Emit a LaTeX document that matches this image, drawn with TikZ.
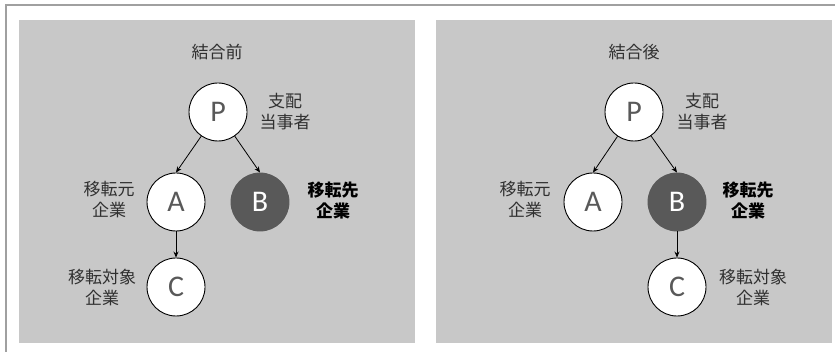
\documentclass[tikz,border=0pt]{standalone}
\usepackage{fontspec}
\setmainfont{Noto Sans CJK JP}
\newfontfamily\letterfont{Carlito}
\usetikzlibrary{arrows.meta}
\definecolor{panelgray}{HTML}{C8C8C8}
\definecolor{bordergray}{HTML}{A0A0A0}
\definecolor{darkfill}{HTML}{595959}
\definecolor{lettergray}{HTML}{595959}
\definecolor{labelgray}{HTML}{303030}
\begin{document}
\begin{tikzpicture}[x=1pt,y=-1pt,
  panel/.style={fill=panelgray, draw=none},
  ent/.style={circle, draw=black, line width=0.9pt, fill=white, minimum size=58pt, inner sep=0pt,
    font=\letterfont\fontsize{30}{30}\selectfont, text=lettergray},
  entdark/.style={ent, fill=darkfill, draw=darkfill, text=white},
  lbl/.style={align=center, font=\fontsize{17}{21}\selectfont, text=labelgray, inner sep=0pt},
  lblb/.style={align=center, font=\fontsize{17}{21}\selectfont\bfseries, text=black, inner sep=0pt},
  ttl/.style={font=\fontsize{17}{21}\selectfont, text=labelgray, inner sep=0pt},
  arr/.style={-{Stealth[length=6pt,width=5pt]}, line width=0.8pt, draw=black}]
\useasboundingbox (0,0) rectangle (835,352);
\fill[white] (0,0) rectangle (835,352);
\draw[bordergray, line width=1.4pt] (6,5) rectangle (850,370);
% panels
\fill[panelgray] (19,20) rectangle (415,343);
\fill[panelgray] (436,20) rectangle (832,343);
% left panel
\node[ttl] (T1) at (217,52) {結合前};
\node[ent] (P1) at (218,112) {P};
\node[ent] (A1) at (176,202) {A};
\node[entdark] (B1) at (260,202) {B};
\node[ent] (C1) at (176,287) {C};
\node[lbl] (LP1) at (285,112) {支配\\当事者};
\node[lbl] (LA1) at (109,200) {移転元\\企業};
\node[lblb] (LB1) at (333,201) {移転先\\企業};
\node[lbl] (LC1) at (102,288) {移転対象\\企業};
\draw[arr] (P1) -- (A1.north);
\draw[arr] (P1) -- (B1.north);
\draw[arr] (A1) -- (C1);
% right panel
\node[ttl] (T2) at (634,52) {結合後};
\node[ent] (P2) at (634,112) {P};
\node[ent] (A2) at (593,202) {A};
\node[entdark] (B2) at (677,202) {B};
\node[ent] (C2) at (677,287) {C};
\node[lbl] (LP2) at (702,112) {支配\\当事者};
\node[lbl] (LA2) at (525,200) {移転元\\企業};
\node[lblb] (LB2) at (748,201) {移転先\\企業};
\node[lbl] (LC2) at (753,288) {移転対象\\企業};
\draw[arr] (P2) -- (A2.north);
\draw[arr] (P2) -- (B2.north);
\draw[arr] (B2) -- (C2);
\end{tikzpicture}
\end{document}
